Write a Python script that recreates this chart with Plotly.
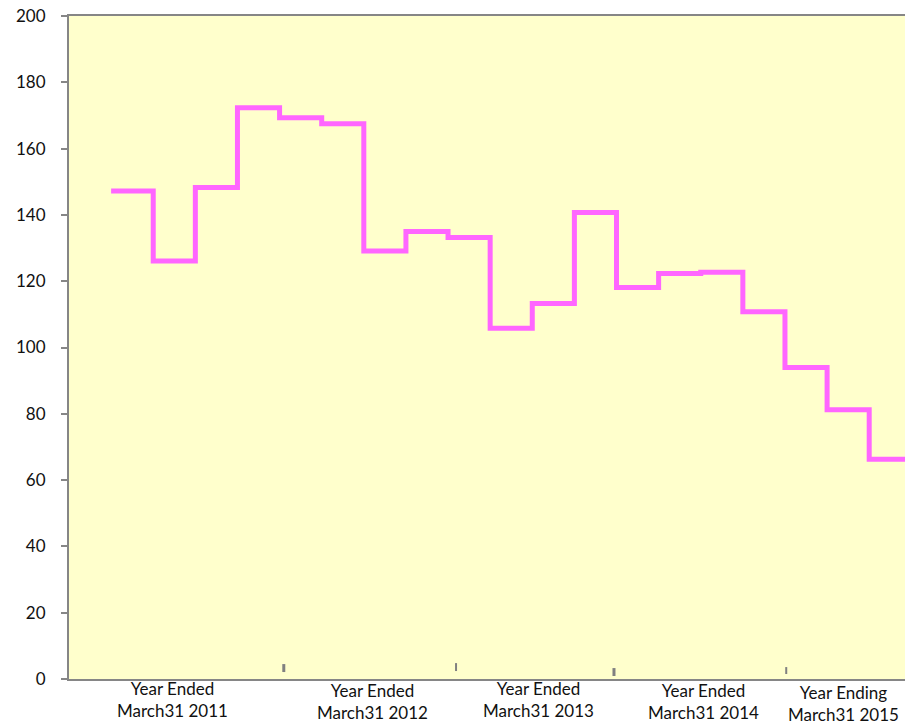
import plotly.graph_objects as go

# Quarterly values (step series), quarter index 1..19
quarter_index = list(range(1, 20))
values = [147.2, 126.1, 148.3, 172.3, 169.3, 167.5, 129.1, 135.0, 133.2, 105.8,
          113.3, 140.7, 118.1, 122.3, 122.7, 110.8, 94.0, 81.2, 66.3]

# Year labels along the bottom (quarter-index centre positions)
year_labels = ["Year Ended<br>March31 2011", "Year Ended<br>March31 2012",
               "Year Ended<br>March31 2013", "Year Ended<br>March31 2014",
               "Year Ending<br>March31 2015"]
year_label_pos = [2.45, 7.2, 11.14, 15.06, 18.38]
year_label_shift = [3, 1, 3, 1, -1]

# Small separator marks near the baseline
marker_pos = [5.1, 9.19, 12.94, 17.03]
marker_span = [(2.1, 4.5), (2.4, 4.8), (0.9, 3.3), (1.5, 3.6)]
marker_width = [3, 2, 3, 2]

# extend the final step to the right edge
xs = quarter_index + [quarter_index[-1] + 1]
ys = values + [values[-1]]

fig = go.Figure()
fig.add_trace(go.Scatter(
    x=xs, y=ys, mode="lines",
    line=dict(shape="hv", color="#FF66FF", width=5),
    hoverinfo="skip", showlegend=False,
))

for xp, (y0, y1), w in zip(marker_pos, marker_span, marker_width):
    fig.add_shape(type="line", xref="x", yref="y", x0=xp, x1=xp, y0=y0, y1=y1,
                  line=dict(color="#808080", width=w))

for txt, xp, sh in zip(year_labels, year_label_pos, year_label_shift):
    fig.add_annotation(x=xp, y=0, xref="x", yref="paper", text=txt,
                       showarrow=False, yanchor="top", yshift=sh,
                       font=dict(family="Lato", size=17, color="#111111"))

fig.update_layout(
    width=905, height=726,
    margin=dict(l=69, r=0, t=16, b=47),
    paper_bgcolor="white",
    plot_bgcolor="#FFFFCC",
    font=dict(family="Lato", size=17, color="#111111"),
    xaxis=dict(range=[0, 19.85], showgrid=False, zeroline=False,
               showticklabels=False, ticks="",
               showline=True, linecolor="#868686", linewidth=2, mirror=True),
    yaxis=dict(range=[0, 200], dtick=20, showgrid=False, zeroline=False,
               showline=True, linecolor="#868686", linewidth=2,
               ticks="outside", ticklen=6, tickcolor="#868686", tickwidth=2,
               ticklabelstandoff=12,
               tickfont=dict(family="Lato", size=17, color="#111111")),
)

fig.write_html("out.html")
